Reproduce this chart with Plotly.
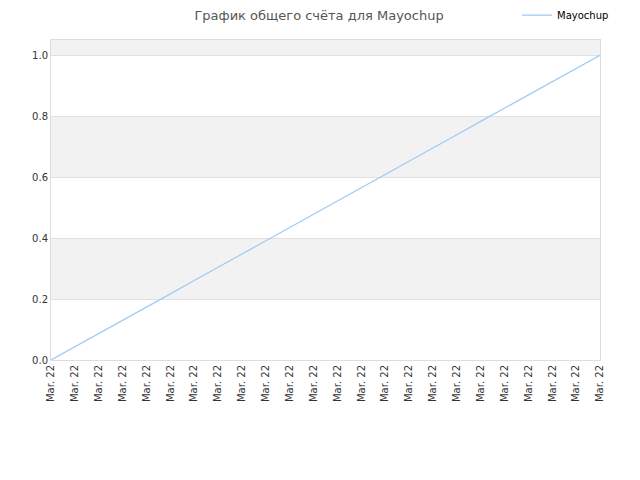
import plotly.graph_objects as go

# Score history for Mayochup
dates = ["Mar. 22"] * 24
scores = [0.0, 0.043, 0.087, 0.13, 0.174, 0.217, 0.261, 0.304, 0.348, 0.391, 0.435, 0.478,
          0.522, 0.565, 0.609, 0.652, 0.696, 0.739, 0.783, 0.826, 0.87, 0.913, 0.957, 1.0]
y_ticks = [0.0, 0.2, 0.4, 0.6, 0.8, 1.0]
bands = [(0.2, 0.4), (0.6, 0.8), (1.0, 1.05)]

idx = list(range(len(scores)))

fig = go.Figure()
fig.add_trace(go.Scatter(x=idx, y=scores, mode="lines", name="Mayochup",
                         line=dict(color="#9ecaf5", width=1.2)))

# alternating grey bands
for lo, hi in bands:
    fig.add_shape(type="rect", xref="paper", yref="y", x0=0, x1=1, y0=lo, y1=hi,
                  fillcolor="#f2f2f2", line_width=0, layer="below")

fig.update_layout(
    width=640, height=480,
    margin=dict(l=43, r=48, t=32, b=128, autoexpand=False),
    paper_bgcolor="white", plot_bgcolor="white",
    font=dict(family="DejaVu Sans", size=10, color="#333333"),
    title=dict(text="График общего счёта для Mayochup", x=0.486, xanchor="center",
               y=0.984, yanchor="middle", font=dict(size=13, color="#555555")),
    showlegend=True,
    legend=dict(x=0.947, y=0.985, xanchor="right", yanchor="middle", yref="container",
                xref="container", bgcolor="rgba(0,0,0,0)", itemwidth=30,
                font=dict(size=10, color="#000000")),
)

fig.update_xaxes(range=[0, len(scores) - 1], tickmode="array", tickvals=idx, ticktext=dates,
                 tickangle=-90, showgrid=False, zeroline=False,
                 showline=True, linecolor="#dddddd", mirror=True,
                 ticks="", tickfont=dict(size=10, color="#333333"))
fig.update_yaxes(range=[0, 1.05], tickmode="array", tickvals=y_ticks,
                 ticktext=[f"{v:.1f}" for v in y_ticks],
                 showgrid=True, gridcolor="#e0e0e0", zeroline=False,
                 showline=True, linecolor="#dddddd", mirror=True,
                 ticks="", tickfont=dict(size=10, color="#333333"))

fig.write_html("out.html")
